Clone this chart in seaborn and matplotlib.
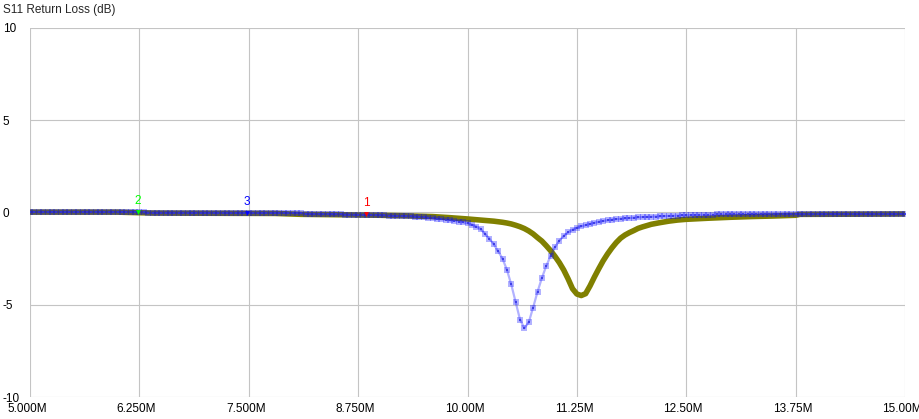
import numpy as np
import matplotlib
matplotlib.use("Agg")
import matplotlib.pyplot as plt
import matplotlib.transforms as mtransforms
import seaborn as sns

sns.set_style("white")
plt.rcParams['font.family'] = ['Liberation Sans', 'DejaVu Sans']
plt.rcParams['axes.unicode_minus'] = False

# sweep 5 - 15 MHz, 201 points (trace 1, light blue)
blue_freq = np.round(5.0 + 0.05 * np.arange(201), 2)
blue_db = [
    0.03, 0.03, 0.03, 0.03, 0.03, 0.03, 0.03, 0.03, 0.03, 0.03,
    0.03, 0.03, 0.03, 0.03, 0.03, 0.03, 0.03, 0.03, 0.03, 0.03,
    0.03, 0.03, 0.03, 0.03, 0.03, 0.03, 0.0, -0.01, -0.01, -0.01,
    -0.01, -0.01, -0.01, -0.01, -0.01, -0.01, -0.01, -0.01, -0.01, -0.01,
    -0.01, -0.01, -0.01, -0.01, -0.01, -0.02, -0.02, -0.02, -0.02, -0.02,
    -0.02, -0.02, -0.02, -0.02, -0.02, -0.02, -0.02, -0.02, -0.02, -0.02,
    -0.03, -0.03, -0.03, -0.08, -0.08, -0.08, -0.09, -0.09, -0.09, -0.1,
    -0.1, -0.1, -0.11, -0.11, -0.12, -0.12, -0.13, -0.13, -0.14, -0.14,
    -0.15, -0.16, -0.17, -0.18, -0.19, -0.19, -0.2, -0.21, -0.22, -0.24,
    -0.26, -0.28, -0.31, -0.33, -0.36, -0.39, -0.42, -0.45, -0.49, -0.53,
    -0.58, -0.66, -0.76, -0.9, -1.15, -1.42, -1.72, -2.1, -2.5, -3.1,
    -3.9, -4.85, -5.8, -6.27, -5.95, -5.15, -4.3, -3.55, -2.9, -2.35,
    -1.88, -1.52, -1.27, -1.08, -0.93, -0.83, -0.75, -0.68, -0.62, -0.56,
    -0.5, -0.46, -0.42, -0.39, -0.36, -0.34, -0.32, -0.3, -0.28, -0.26,
    -0.25, -0.24, -0.23, -0.22, -0.21, -0.2, -0.19, -0.18, -0.17, -0.16,
    -0.15, -0.14, -0.13, -0.12, -0.12, -0.11, -0.11, -0.1, -0.1, -0.1,
    -0.09, -0.09, -0.09, -0.09, -0.09, -0.09, -0.09, -0.09, -0.09, -0.09,
    -0.09, -0.09, -0.09, -0.09, -0.09, -0.09, -0.09, -0.09, -0.09, -0.09,
    -0.08, -0.08, -0.08, -0.08, -0.08, -0.08, -0.08, -0.08, -0.08, -0.08,
    -0.08, -0.08, -0.08, -0.08, -0.08, -0.08, -0.08, -0.08, -0.08, -0.08,
    -0.08,
]

# trace 2 (olive)
olive_freq = [
    5.0, 6.0, 6.4, 7.0, 7.8, 8.1, 8.5, 9.0, 9.3, 9.6, 9.8,
    10.0, 10.05, 10.1, 10.15, 10.2, 10.25, 10.3, 10.35, 10.4, 10.45,
    10.5, 10.55, 10.6, 10.65, 10.7, 10.75, 10.8, 10.85, 10.9, 10.95,
    11.0, 11.05, 11.1, 11.15, 11.2, 11.25, 11.3, 11.35, 11.4, 11.45,
    11.5, 11.55, 11.6, 11.65, 11.7, 11.75, 11.8, 11.85, 11.9, 11.95,
    12.0, 12.1, 12.2, 12.3, 12.4, 12.5, 12.75, 13.0, 13.25, 13.5,
    13.75, 13.8, 14.5, 15.0,
]
olive_db = [
    0.02, 0.02, -0.03, -0.04, -0.05, -0.1, -0.12, -0.15, -0.18, -0.22, -0.28,
    -0.35, -0.37, -0.39, -0.41, -0.43, -0.45, -0.47, -0.5, -0.53, -0.57,
    -0.62, -0.69, -0.77, -0.87, -1.0, -1.16, -1.36, -1.55, -1.8, -2.07,
    -2.38, -2.72, -3.12, -3.6, -4.13, -4.42, -4.5, -4.4, -3.98, -3.5,
    -3.05, -2.62, -2.25, -1.92, -1.63, -1.39, -1.22, -1.09, -0.98, -0.86,
    -0.78, -0.64, -0.55, -0.47, -0.41, -0.37, -0.31, -0.26, -0.22, -0.19,
    -0.15, -0.1, -0.09, -0.08,
]

# markers
mark_labels = ["1", "2", "3"]
mark_freq = [8.84, 6.23, 7.48]
mark_db = [-0.08, 0.03, -0.01]
mark_colors = ["#ff0000", "#00ff00", "#0000ff"]

x_ticks = [5.0, 6.25, 7.5, 8.75, 10.0, 11.25, 12.5, 13.75, 15.0]
x_ticklabels = ["5.000M", "6.250M", "7.500M", "8.750M", "10.00M",
                "11.25M", "12.50M", "13.75M", "15.00M"]
y_ticks = [-10, -5, 0, 5, 10]

fig = plt.figure(figsize=(9.2, 4.19), dpi=100)
ax = fig.add_axes([30 / 920, 1 - 397 / 419, 875 / 920, 369 / 419])

sns.lineplot(x=olive_freq, y=olive_db, ax=ax, color="#808000", lw=4.0,
             solid_capstyle="butt", zorder=3)
sns.lineplot(x=blue_freq, y=blue_db, ax=ax, color="#0000ff", alpha=0.3, lw=1.6,
             marker="s", markersize=4.4, markeredgewidth=0, zorder=4)
sns.scatterplot(x=blue_freq, y=blue_db, ax=ax, color="#3030e0", marker="s", s=3,
                linewidth=0, alpha=0.8, zorder=5)

for lab, f, d, c in zip(mark_labels, mark_freq, mark_db, mark_colors):
    ax.scatter([f], [d], marker="v", s=12, color=c, linewidths=0, zorder=6)
    ax.text(f, d + 0.25, lab, color=c, fontsize=8.5, ha="center", va="bottom", zorder=7)

ax.set_xlim(5, 15)
ax.set_ylim(-10, 10)
ax.set_xticks(x_ticks)
ax.set_xticklabels(x_ticklabels)
ax.set_yticks(y_ticks)
ax.grid(True, color="#c4c4c4", lw=0.8)
ax.set_axisbelow(True)
for s in ax.spines.values():
    s.set_visible(False)
ax.tick_params(length=0, labelsize=8.5, colors="black")
ax.tick_params(axis="x", pad=4.5)
ax.tick_params(axis="y", pad=19.5)
for t in ax.get_yticklabels():
    t.set_horizontalalignment("left")
shift = mtransforms.ScaledTranslation(-3 / 100, 0, fig.dpi_scale_trans)
for t in ax.get_xticklabels():
    t.set_transform(t.get_transform() + shift)

fig.text(3 / 920, 1 - 10 / 419, "S11 Return Loss (dB)", fontsize=8.5, va="center", ha="left")

fig.savefig("out.png", dpi=100)
